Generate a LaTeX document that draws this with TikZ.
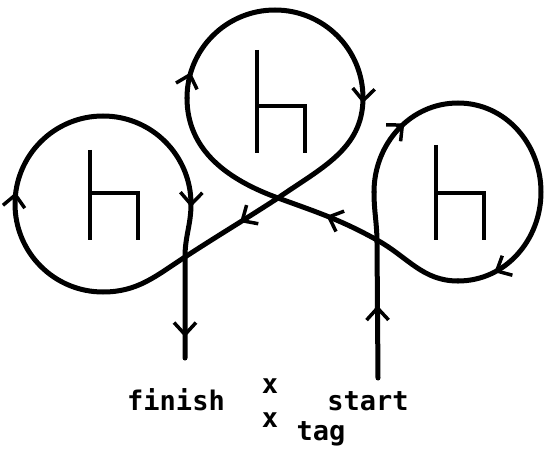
\documentclass[tikz,border=0pt]{standalone}
\usepackage{fontspec}
\setmonofont{DejaVu Sans Mono}
\usepackage{tikz}
\usetikzlibrary{arrows.meta, decorations.markings, calc}

\begin{document}
\begin{tikzpicture}[x=1pt, y=1pt,
    barb/.tip={Straight Barb[length=12pt, width=22pt, line width=3.5pt]},
    loop/.style={line width=5pt, line cap=round, line join=round},
    tipat/.style={postaction={decorate, decoration={markings,
        mark=at position #1 with {\arrow{barb}}}}},
    lbl/.style={font=\ttfamily\bfseries\fontsize{27}{30}\selectfont, anchor=base, inner sep=0pt},
    pics/seat/.style={code={
        \draw[line width=3.5pt] (0,#1) -- (0,0);
        \draw[line width=3.5pt] (0,47) -- (48,47) -- (48,0);
    }}]
    \useasboundingbox (0,0) rectangle (544,448);

    % 关键点
    \coordinate (start) at (378,70);
    \coordinate (s1) at (377,205);
    \coordinate (X1) at (377,208);
    \coordinate (C) at (278,250);
    \coordinate (X2) at (185,191);
    \coordinate (finish) at (185,90);
    % 右圆
    \coordinate (rW) at (374,256);
    \coordinate (rN) at (458,345);
    \coordinate (rE) at (541,256);
    \coordinate (rS) at (458,167);
    % 上圆
    \coordinate (tW) at (187,350);
    \coordinate (tN) at (275,438);
    \coordinate (tE) at (363,350);
    % 左圆
    \coordinate (lW) at (15,244);
    \coordinate (lN) at (103,332);
    \coordinate (lE) at (191,244);
    \coordinate (lS) at (103,156);

    % 椅子
    \pic at (90,208) {seat=90};
    \pic at (257,295) {seat=103};
    \pic at (436,208) {seat=95};

    % 路线
    \draw[loop, tipat=0.39] (start) -- (s1) to[out=90, in=270] (rW);
    \draw[loop, tipat=0.19, tipat=0.907] (rW) to[out=90, in=180] (rN)
        to[out=0, in=90] (rE) to[out=270, in=0] (rS);
    \draw[loop, tipat=0.43] (rS) to[out=180, in=-29] (X1)
        to[out=151, in=-20] (C) to[out=160, in=270] (tW);
    \draw[loop, tipat=0.063, tipat=0.68] (tW) to[out=90, in=180] (tN)
        to[out=0, in=90] (tE) to[out=270, in=35] (C);
    \draw[loop, tipat=0.073, tipat=0.57] (C) to[out=213, in=33] (X2)
        to[out=213, in=0] (lS) to[out=180, in=270] (lW)
        to[out=90, in=180] (lN) to[out=0, in=90] (lE);
    \draw[loop, tipat=0.02, tipat=0.865] (lE) to[out=270, in=90] (X2) -- (finish);

    % 标签
    \node[lbl] (finishlbl) at (176,38) {finish};
    \node[lbl] (xa) at (270,55) {x};
    \node[lbl] (xb) at (270,21) {x};
    \node[lbl] (startlbl) at (368,38) {start};
    \node[lbl] (taglbl) at (321,8) {tag};
\end{tikzpicture}
\end{document}
